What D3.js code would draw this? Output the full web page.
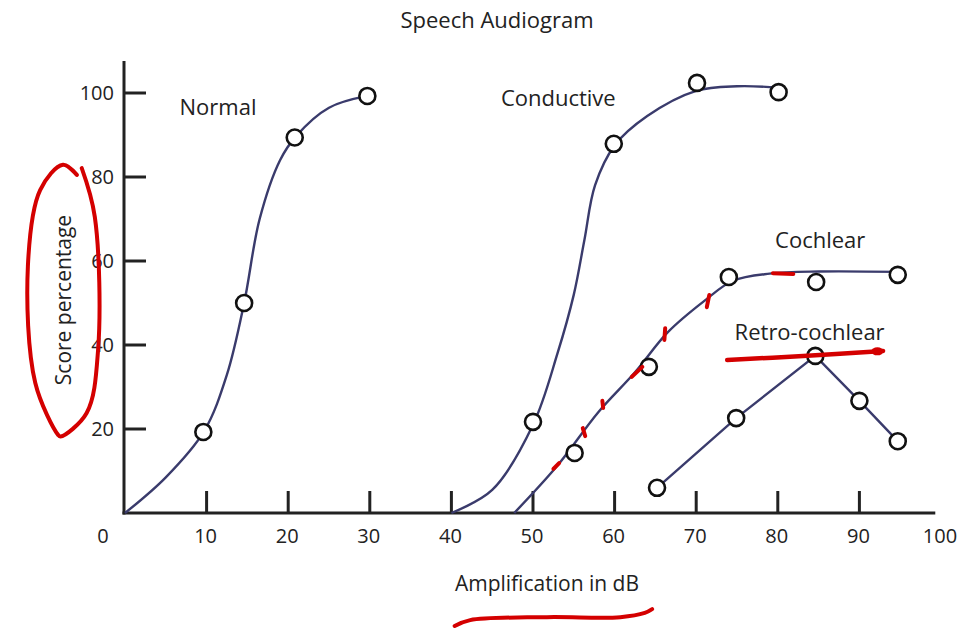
<!DOCTYPE html>
<html>
<head>
<meta charset="utf-8">
<script src="https://cdn.jsdelivr.net/npm/d3@7"></script>
<style>
  body { margin: 0; background: #fff; }
  svg { display: block; font-family: "Open Sans", "Noto Sans", sans-serif; }
</style>
</head>
<body>
<svg id="chart" width="960" height="629"></svg>
<script>
// observed scores (circles)
const normalPts = [[9.6, 19.3], [14.6, 50], [20.8, 89.4], [29.7, 99.3]];
const conductivePts = [[50, 21.7], [59.9, 87.9], [70.1, 102.4], [80.1, 100.2]];
const cochlearPts = [[55.1, 14.3], [64.2, 34.8], [74, 56.2], [84.7, 55], [94.7, 56.7]];
const retroPts = [[65.2, 6], [74.9, 22.6], [84.6, 37.4], [90, 26.7], [94.7, 17.1]];

// fitted curves
const normalFit = [[0, 0], [5, 8.5], [9.7, 19.5], [12.5, 33], [14.6, 50], [16.5, 70], [19, 84], [21, 89.8], [25, 96.5], [29.7, 99.3]];
const conductiveFit = [[40, 0], [45, 5.5], [50, 21], [53, 38], [55, 52], [56.3, 65], [57.6, 78], [60, 87.5], [64, 94.5], [70, 100.5], [75, 101.6], [80.1, 101.3]];
const cochlearFit = [[47.7, 0], [53, 11.3], [58, 24], [62.5, 33.5], [66.5, 43], [71, 50.5], [74.5, 55.3], [79, 57], [85, 57.5], [95, 57.4]];

const xTicks = [0, 10, 20, 30, 40, 50, 60, 70, 80, 90, 100];
const yTicks = [20, 40, 60, 80, 100];

const labels = [
  { text: "Normal", x: 11.4, y: 94.8 },
  { text: "Conductive", x: 53.1, y: 96.9 },
  { text: "Cochlear", x: 85.2, y: 63.1 },
  { text: "Retro-cochlear", x: 83.9, y: 41.2 }
];

// red hand annotations (data units)
const markEllipse = [[-5.9, 80.5], [-7.6, 82.9], [-10.4, 76.9], [-11.9, 58.8], [-11, 31], [-8.2, 18.6], [-7.9, 18.2], [-4.7, 23.8], [-3.3, 38.8], [-3.7, 70.5], [-5.3, 82.1]];
const markUnder = [[40.4, -26.9], [42.3, -25.5], [51.7, -24.8], [60.7, -24.8], [63.7, -23.8], [64.6, -22.9]];
const markRetro = [[73.8, 36.4], [83.1, 37.4], [92.9, 38.6]];
const markDashes = [
  [[52.5, 10.5], [53.2, 11.9]],
  [[56.1, 20.2], [56.4, 18.3]],
  [[58.5, 26.7], [58.6, 25]],
  [[62.1, 32.4], [63.4, 34.8]],
  [[66.2, 44], [66.1, 41.2]],
  [[71.6, 51.9], [71.3, 49]],
  [[79.4, 57.1], [81.9, 56.9]]
];

const svg = d3.select("#chart");
const x = d3.scaleLinear().domain([0, 100]).range([125, 941]);
const y = d3.scaleLinear().domain([0, 100]).range([513, 93]);

const ink = "#222";
const curveCol = "#3a3b6c";
const red = "#d40000";

// title
svg.append("text")
  .attr("x", 497).attr("y", 28)
  .attr("text-anchor", "middle")
  .attr("font-size", 22).attr("fill", ink)
  .text("Speech Audiogram");

// axes lines
svg.append("line")
  .attr("x1", x(0) - 1).attr("x2", x(0) - 1)
  .attr("y1", y(0) + 1.5).attr("y2", y(107.6))
  .attr("stroke", ink).attr("stroke-width", 3);
svg.append("line")
  .attr("x1", x(0) - 2.5).attr("x2", x(99.3))
  .attr("y1", y(0)).attr("y2", y(0))
  .attr("stroke", ink).attr("stroke-width", 3);

// x ticks (inward)
svg.selectAll(".xt").data(xTicks.filter(d => d > 0 && d < 100)).enter()
  .append("line")
  .attr("x1", d => x(d)).attr("x2", d => x(d))
  .attr("y1", y(0)).attr("y2", y(0) - 22)
  .attr("stroke", ink).attr("stroke-width", 3);
svg.selectAll(".xl").data(xTicks).enter()
  .append("text")
  .attr("x", d => d === 0 ? x(d) - 22 : x(d) - 1)
  .attr("y", 543)
  .attr("text-anchor", "middle")
  .attr("font-size", 20).attr("fill", ink)
  .text(d => d);

// y ticks (inward)
svg.selectAll(".yt").data(yTicks).enter()
  .append("line")
  .attr("x1", x(0) - 1).attr("x2", x(0) + 21)
  .attr("y1", d => y(d)).attr("y2", d => y(d))
  .attr("stroke", ink).attr("stroke-width", 3);
svg.selectAll(".yl").data(yTicks).enter()
  .append("text")
  .attr("x", 114)
  .attr("y", d => y(d) + 7)
  .attr("text-anchor", "end")
  .attr("font-size", 20).attr("fill", ink)
  .text(d => d);

// axis titles
svg.append("text")
  .attr("transform", "translate(71,300) rotate(-90)")
  .attr("text-anchor", "middle")
  .attr("font-size", 21).attr("fill", ink)
  .text("Score percentage");
svg.append("text")
  .attr("x", 547).attr("y", 591)
  .attr("text-anchor", "middle")
  .attr("font-size", 21).attr("fill", ink)
  .text("Amplification in dB");

// curves
const smooth = d3.line().x(d => x(d[0])).y(d => y(d[1])).curve(d3.curveCatmullRom.alpha(0.5));
const straight = d3.line().x(d => x(d[0])).y(d => y(d[1]));

[normalFit, conductiveFit, cochlearFit].forEach(fit => {
  svg.append("path")
    .attr("d", smooth(fit))
    .attr("fill", "none").attr("stroke", curveCol).attr("stroke-width", 2.4);
});
svg.append("path")
  .attr("d", straight(retroPts))
  .attr("fill", "none").attr("stroke", curveCol).attr("stroke-width", 2.4);

// circles
[normalPts, conductivePts, cochlearPts, retroPts].forEach(pts => {
  svg.append("g").selectAll("circle").data(pts).enter()
    .append("circle")
    .attr("cx", d => x(d[0])).attr("cy", d => y(d[1]))
    .attr("r", 8)
    .attr("fill", "#fff").attr("stroke", "#111").attr("stroke-width", 2.6);
});

// curve labels
svg.selectAll(".lab").data(labels).enter()
  .append("text")
  .attr("x", d => x(d.x)).attr("y", d => y(d.y))
  .attr("text-anchor", "middle")
  .attr("font-size", 22).attr("fill", ink)
  .text(d => d.text);

// red annotations
const hand = d3.line().x(d => x(d[0])).y(d => y(d[1])).curve(d3.curveCatmullRom.alpha(0.5));
svg.append("path").attr("d", hand(markEllipse))
  .attr("fill", "none").attr("stroke", red).attr("stroke-width", 4).attr("stroke-linecap", "round");
svg.append("path").attr("d", hand(markUnder))
  .attr("fill", "none").attr("stroke", red).attr("stroke-width", 4).attr("stroke-linecap", "round");
svg.append("path").attr("d", hand(markRetro))
  .attr("fill", "none").attr("stroke", red).attr("stroke-width", 4.5).attr("stroke-linecap", "round");
svg.append("ellipse")
  .attr("cx", x(92.2)).attr("cy", y(38.5)).attr("rx", 6).attr("ry", 4)
  .attr("fill", red);
markDashes.forEach(seg => {
  svg.append("path").attr("d", straight(seg))
    .attr("fill", "none").attr("stroke", red).attr("stroke-width", 4).attr("stroke-linecap", "round");
});
</script>
</body>
</html>
